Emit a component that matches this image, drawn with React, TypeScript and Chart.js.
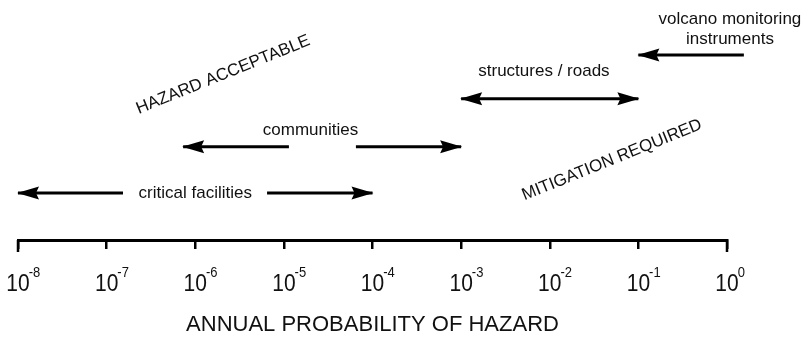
import React, { useEffect, useRef } from "react";
import { Chart, registerables } from "chart.js";

Chart.register(...registerables);

const FONT = '"Liberation Sans", Arial, Helvetica, sans-serif';

// Axis decades (annual probability) and their exponent labels
const decades = [1e-8, 1e-7, 1e-6, 1e-5, 1e-4, 1e-3, 1e-2, 1e-1, 1];
const tickExponents = ["-8", "-7", "-6", "-5", "-4", "-3", "-2", "-1", "0"];

// Probability ranges (arrows)
const rangeNames = ["critical facilities", "communities", "structures / roads", "volcano monitoring instruments"];
const rangeFrom = [1e-8, 7.3e-7, 1e-3, 1e-1];
const rangeTo = [1e-4, 1e-3, 1e-1, 1.55];
const gapFrom = [1.53e-7, 1.14e-5, null, null];
const gapTo = [6.46e-6, 6.5e-5, null, null];
const arrowLeft = [true, true, true, true];
const arrowRight = [true, true, true, false];
const rangeRow = [1, 1.98, 3, 3.93];

// Range labels
const labelLines = [["critical facilities"], ["communities"], ["structures / roads"], ["volcano monitoring", "instruments"]];
const labelX = [1e-6, 2e-5, 8.6e-3, 1.08];
const labelRow = [1, 2.34, 3.59, 4.48];

// Zone labels (rotated)
const zoneNames = ["HAZARD ACCEPTABLE", "MITIGATION REQUIRED"];
const zoneX = [2.06e-6, 0.0504];
const zoneRow = [3.51, 1.7];
const zoneAngleDeg = -22;

const axisTitle = "ANNUAL PROBABILITY OF HAZARD";

const overlayPlugin = {
  id: "overlay",
  afterDatasetsDraw(chart: any) {
    const { ctx, scales } = chart;
    const x = scales.x;
    const y = scales.y;
    ctx.save();
    ctx.fillStyle = "#000";

    // arrowheads
    const head = (px: number, py: number, dir: number) => {
      ctx.beginPath();
      ctx.moveTo(px + dir * 1, py);
      ctx.lineTo(px - dir * 21, py - 6.5);
      ctx.lineTo(px - dir * 18, py);
      ctx.lineTo(px - dir * 21, py + 6.5);
      ctx.closePath();
      ctx.fill();
    };
    rangeNames.forEach((_, i) => {
      const py = y.getPixelForValue(rangeRow[i]);
      if (arrowLeft[i]) head(x.getPixelForValue(rangeFrom[i]), py, -1);
      if (arrowRight[i]) head(x.getPixelForValue(rangeTo[i]), py, 1);
    });

    // range labels
    ctx.fillStyle = "#111";
    ctx.font = `17px ${FONT}`;
    ctx.textAlign = "center";
    ctx.textBaseline = "middle";
    labelLines.forEach((lines, i) => {
      const px = x.getPixelForValue(labelX[i]);
      const py = y.getPixelForValue(labelRow[i]);
      const lh = 20;
      lines.forEach((t, k) => {
        ctx.fillText(t, px, py + (k - (lines.length - 1) / 2) * lh);
      });
    });

    // zone labels
    zoneNames.forEach((t, i) => {
      ctx.save();
      ctx.translate(x.getPixelForValue(zoneX[i]), y.getPixelForValue(zoneRow[i]));
      ctx.rotate((zoneAngleDeg * Math.PI) / 180);
      ctx.fillText(t, 0, 0);
      ctx.restore();
    });

    // longer end ticks
    ctx.strokeStyle = "#000";
    ctx.lineWidth = 2.5;
    [decades[0], decades[decades.length - 1]].forEach((v) => {
      const px = x.getPixelForValue(v);
      ctx.beginPath();
      ctx.moveTo(px, x.top);
      ctx.lineTo(px, x.top + 12);
      ctx.stroke();
    });

    // tick labels 10^n
    ctx.textBaseline = "alphabetic";
    decades.forEach((v, i) => {
      const px = x.getPixelForValue(v);
      ctx.save();
      ctx.translate(px, x.top + 51);
      ctx.scale(1, 1.18);
      ctx.font = `21px ${FONT}`;
      ctx.textAlign = "center";
      ctx.fillText("10", 0, 0);
      const w = ctx.measureText("10").width;
      ctx.font = `13px ${FONT}`;
      ctx.textAlign = "left";
      ctx.fillText(tickExponents[i], w / 2 - 1, -12);
      ctx.restore();
    });
    ctx.restore();
  },
};

export default function App() {
  const ref = useRef<HTMLCanvasElement | null>(null);
  useEffect(() => {
    if (!ref.current) return;
    const datasets = rangeNames.map((name, i) => {
      const r = rangeRow[i];
      const data =
        gapFrom[i] != null
          ? [
              { x: rangeFrom[i], y: r },
              { x: gapFrom[i], y: r },
              { x: gapFrom[i], y: null },
              { x: gapTo[i], y: r },
              { x: rangeTo[i], y: r },
            ]
          : [
              { x: rangeFrom[i], y: r },
              { x: rangeTo[i], y: r },
            ];
      return {
        label: name,
        data,
        borderColor: "#000",
        borderWidth: 3,
        pointRadius: 0,
        spanGaps: false,
        clip: false as any,
      };
    });
    const chart = new Chart(ref.current, {
      type: "line",
      data: { datasets: datasets as any },
      options: {
        responsive: false,
        animation: false,
        devicePixelRatio: 1,
        layout: { padding: { left: 18, right: 76, top: 0, bottom: 0 } },
        plugins: { legend: { display: false }, tooltip: { enabled: false } },
        scales: {
          x: {
            type: "logarithmic",
            min: 1e-8,
            max: 1,
            position: "bottom",
            afterBuildTicks: (s: any) => {
              s.ticks = decades.map((v) => ({ value: v }));
            },
            ticks: { display: false },
            grid: { display: true, drawOnChartArea: false, drawTicks: true, tickLength: 9, color: "#000", lineWidth: 2.5 },
            border: { display: true, color: "#000", width: 3 },
            title: {
              display: true,
              text: axisTitle,
              color: "#111",
              font: { size: 22, family: FONT },
              padding: { top: 62.6, bottom: 0 },
            },
          },
          y: { type: "linear", min: 0, max: 5.1, display: false },
        },
      },
      plugins: [overlayPlugin],
    });
    return () => chart.destroy();
  }, []);
  return (
    <div style={{ position: "fixed", left: 0, top: 0, width: 803, height: 338, background: "#fff" }}>
      <canvas ref={ref} width={803} height={338} style={{ display: "block" }} />
    </div>
  );
}
